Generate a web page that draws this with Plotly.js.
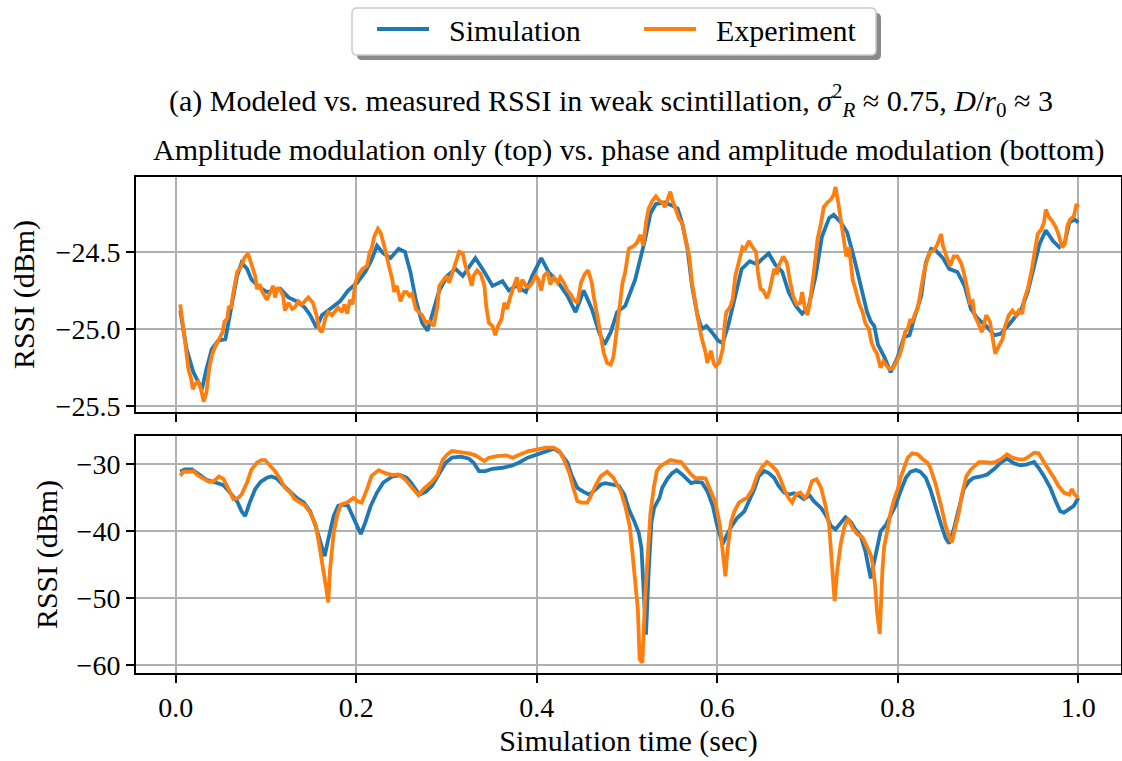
<!DOCTYPE html>
<html>
<head>
<meta charset="utf-8">
<script src="https://cdn.plot.ly/plotly-3.0.1.min.js"></script>
<style>html,body{margin:0;padding:0;background:#fff;}</style>
</head>
<body>
<div id="chart" style="width:1122px;height:761px;"></div>
<script>
// ---- Data ----
const seriesNames = ["Simulation", "Experiment"];

// Top panel: amplitude modulation only
const tSimTop = [0.005,0.012,0.0196,0.029,0.034,0.040,0.047,0.055,0.060,0.068,0.073,0.079,0.084,0.093,0.101,0.108,0.116,0.125,0.134,0.143,0.149,0.156,0.162,0.171,0.182,0.191,0.201,0.210,0.217,0.223,0.230,0.238,0.247,0.254,0.260,0.266,0.273,0.279,0.284,0.292,0.301,0.310,0.318,0.325,0.332,0.342,0.351,0.362,0.369,0.377,0.388,0.395,0.405,0.413,0.424,0.434,0.443,0.452,0.461,0.469,0.475,0.482,0.489,0.498,0.509,0.520,0.526,0.532,0.541,0.550,0.556,0.561,0.567,0.572,0.578,0.583,0.588,0.594,0.601,0.606,0.612,0.620,0.627,0.636,0.644,0.649,0.657,0.664,0.672,0.679,0.687,0.694,0.701,0.709,0.716,0.724,0.729,0.737,0.744,0.752,0.759,0.766,0.770,0.774,0.778,0.785,0.792,0.800,0.807,0.813,0.818,0.826,0.831,0.837,0.842,0.850,0.857,0.866,0.874,0.881,0.889,0.898,0.907,0.914,0.922,0.929,0.937,0.944,0.951,0.957,0.964,0.972,0.979,0.985,0.990,0.996,1.000];
const simTop = [-24.88,-25.13,-25.28,-25.39,-25.26,-25.13,-25.075,-25.065,-24.91,-24.655,-24.57,-24.61,-24.68,-24.73,-24.76,-24.75,-24.74,-24.795,-24.82,-24.86,-24.91,-24.99,-24.91,-24.87,-24.82,-24.75,-24.70,-24.63,-24.55,-24.46,-24.51,-24.54,-24.48,-24.50,-24.63,-24.81,-24.96,-25.01,-24.91,-24.75,-24.655,-24.61,-24.655,-24.60,-24.54,-24.63,-24.72,-24.69,-24.75,-24.72,-24.76,-24.655,-24.54,-24.63,-24.70,-24.785,-24.89,-24.75,-24.87,-25.02,-25.10,-25.02,-24.89,-24.85,-24.68,-24.42,-24.25,-24.19,-24.18,-24.20,-24.22,-24.31,-24.48,-24.72,-24.91,-25.0,-24.98,-25.02,-25.075,-25.09,-24.98,-24.785,-24.61,-24.56,-24.58,-24.55,-24.51,-24.58,-24.63,-24.76,-24.85,-24.90,-24.86,-24.655,-24.40,-24.28,-24.26,-24.31,-24.375,-24.55,-24.72,-24.89,-24.95,-24.98,-25.10,-25.18,-25.28,-25.18,-25.05,-25.04,-24.935,-24.785,-24.57,-24.48,-24.49,-24.54,-24.61,-24.63,-24.72,-24.87,-24.935,-24.98,-25.04,-25.03,-24.98,-24.925,-24.87,-24.76,-24.59,-24.45,-24.36,-24.43,-24.47,-24.44,-24.31,-24.29,-24.31];

const tExpTop = [0.005,0.008,0.011,0.014,0.017,0.019,0.021,0.025,0.028,0.031,0.034,0.037,0.040,0.044,0.048,0.052,0.054,0.057,0.059,0.061,0.064,0.068,0.072,0.076,0.080,0.084,0.088,0.090,0.093,0.096,0.101,0.105,0.108,0.110,0.113,0.116,0.119,0.121,0.125,0.129,0.132,0.136,0.140,0.143,0.147,0.152,0.156,0.159,0.162,0.166,0.169,0.173,0.177,0.180,0.184,0.187,0.190,0.193,0.196,0.199,0.203,0.207,0.212,0.215,0.217,0.220,0.224,0.227,0.231,0.234,0.237,0.240,0.242,0.245,0.249,0.253,0.256,0.259,0.262,0.266,0.270,0.273,0.277,0.281,0.286,0.290,0.292,0.296,0.300,0.303,0.306,0.309,0.314,0.318,0.321,0.325,0.328,0.330,0.334,0.338,0.342,0.344,0.347,0.351,0.354,0.357,0.361,0.364,0.367,0.371,0.375,0.378,0.381,0.384,0.388,0.391,0.395,0.399,0.402,0.405,0.408,0.412,0.415,0.419,0.423,0.426,0.430,0.434,0.437,0.441,0.445,0.449,0.453,0.457,0.461,0.463,0.467,0.471,0.474,0.478,0.482,0.485,0.488,0.491,0.495,0.498,0.502,0.508,0.511,0.515,0.518,0.521,0.524,0.528,0.532,0.536,0.539,0.542,0.545,0.548,0.550,0.554,0.558,0.561,0.565,0.569,0.572,0.576,0.580,0.583,0.587,0.589,0.593,0.596,0.598,0.602,0.606,0.608,0.610,0.614,0.617,0.620,0.624,0.628,0.631,0.635,0.639,0.643,0.645,0.648,0.651,0.655,0.658,0.661,0.663,0.666,0.668,0.673,0.677,0.681,0.684,0.688,0.692,0.694,0.697,0.700,0.703,0.707,0.711,0.715,0.718,0.722,0.726,0.729,0.731,0.734,0.737,0.740,0.743,0.746,0.750,0.753,0.757,0.761,0.764,0.768,0.771,0.774,0.777,0.781,0.784,0.788,0.791,0.795,0.799,0.802,0.805,0.808,0.811,0.814,0.816,0.819,0.822,0.825,0.829,0.833,0.836,0.840,0.844,0.848,0.850,0.854,0.858,0.862,0.866,0.870,0.873,0.877,0.880,0.883,0.885,0.889,0.893,0.895,0.898,0.902,0.905,0.908,0.912,0.916,0.919,0.923,0.927,0.931,0.934,0.938,0.940,0.944,0.948,0.952,0.955,0.959,0.962,0.964,0.967,0.971,0.975,0.978,0.982,0.985,0.988,0.991,0.995,0.998,1.000];
const expTop = [-24.84,-24.96,-25.11,-25.26,-25.32,-25.39,-25.36,-25.34,-25.39,-25.47,-25.41,-25.26,-25.17,-25.11,-25.06,-25.02,-24.95,-24.935,-24.85,-24.87,-24.76,-24.63,-24.60,-24.54,-24.51,-24.59,-24.655,-24.74,-24.71,-24.76,-24.81,-24.76,-24.72,-24.795,-24.73,-24.75,-24.785,-24.88,-24.83,-24.87,-24.86,-24.82,-24.84,-24.82,-24.795,-24.83,-24.91,-25.0,-25.02,-24.925,-24.89,-24.91,-24.88,-24.86,-24.89,-24.84,-24.90,-24.81,-24.84,-24.70,-24.645,-24.61,-24.59,-24.50,-24.48,-24.40,-24.35,-24.375,-24.46,-24.55,-24.61,-24.68,-24.76,-24.72,-24.82,-24.76,-24.76,-24.785,-24.77,-24.87,-24.89,-24.91,-24.96,-24.95,-24.98,-24.85,-24.72,-24.69,-24.655,-24.70,-24.645,-24.58,-24.50,-24.51,-24.59,-24.655,-24.72,-24.655,-24.62,-24.645,-24.72,-24.85,-24.96,-24.98,-25.04,-24.98,-24.935,-24.83,-24.87,-24.785,-24.72,-24.665,-24.76,-24.68,-24.72,-24.73,-24.70,-24.655,-24.68,-24.75,-24.655,-24.63,-24.71,-24.665,-24.70,-24.665,-24.70,-24.75,-24.77,-24.81,-24.83,-24.70,-24.645,-24.62,-24.70,-24.785,-24.91,-25.04,-25.15,-25.22,-25.23,-25.18,-25.02,-24.87,-24.70,-24.63,-24.48,-24.46,-24.44,-24.39,-24.46,-24.31,-24.22,-24.17,-24.14,-24.17,-24.18,-24.21,-24.15,-24.11,-24.16,-24.235,-24.29,-24.31,-24.42,-24.53,-24.70,-24.85,-24.98,-25.065,-25.15,-25.22,-25.14,-25.22,-25.24,-25.22,-25.13,-24.98,-24.89,-24.86,-24.81,-24.655,-24.55,-24.47,-24.48,-24.43,-24.47,-24.50,-24.63,-24.74,-24.75,-24.80,-24.75,-24.68,-24.61,-24.645,-24.59,-24.53,-24.57,-24.70,-24.785,-24.84,-24.83,-24.76,-24.86,-24.91,-24.81,-24.63,-24.42,-24.31,-24.21,-24.18,-24.16,-24.13,-24.08,-24.18,-24.29,-24.42,-24.53,-24.47,-24.68,-24.74,-24.83,-24.89,-24.96,-25.0,-25.09,-25.13,-25.16,-25.25,-25.21,-25.24,-25.26,-25.25,-25.21,-25.17,-25.11,-25.02,-25.0,-24.935,-24.96,-24.90,-24.87,-24.76,-24.63,-24.54,-24.50,-24.49,-24.45,-24.385,-24.46,-24.53,-24.59,-24.53,-24.53,-24.57,-24.63,-24.74,-24.83,-24.82,-24.91,-24.96,-25.02,-24.98,-24.91,-24.95,-25.04,-25.16,-25.11,-25.065,-24.98,-24.91,-24.88,-24.91,-24.88,-24.90,-24.81,-24.74,-24.63,-24.48,-24.385,-24.355,-24.31,-24.225,-24.27,-24.30,-24.34,-24.385,-24.47,-24.45,-24.33,-24.29,-24.27,-24.19,-24.21];

// Bottom panel: phase and amplitude modulation
const tSimBot = [0.005,0.010,0.018,0.025,0.034,0.044,0.053,0.060,0.068,0.073,0.077,0.082,0.088,0.094,0.101,0.106,0.112,0.119,0.127,0.134,0.142,0.149,0.155,0.160,0.165,0.169,0.175,0.180,0.186,0.191,0.197,0.203,0.205,0.210,0.216,0.223,0.230,0.240,0.249,0.256,0.260,0.270,0.277,0.284,0.292,0.299,0.306,0.316,0.325,0.330,0.336,0.343,0.351,0.362,0.373,0.380,0.390,0.401,0.410,0.419,0.426,0.434,0.439,0.445,0.452,0.458,0.463,0.471,0.476,0.484,0.491,0.497,0.502,0.508,0.513,0.516,0.518,0.521,0.524,0.527,0.530,0.536,0.539,0.545,0.550,0.555,0.561,0.567,0.571,0.576,0.583,0.589,0.595,0.600,0.606,0.610,0.616,0.622,0.630,0.635,0.641,0.646,0.652,0.657,0.663,0.668,0.674,0.679,0.685,0.691,0.696,0.702,0.707,0.715,0.720,0.726,0.731,0.737,0.742,0.748,0.753,0.759,0.764,0.770,0.774,0.777,0.781,0.787,0.792,0.798,0.803,0.809,0.814,0.820,0.825,0.831,0.836,0.842,0.848,0.853,0.857,0.862,0.868,0.873,0.879,0.884,0.892,0.899,0.907,0.914,0.921,0.929,0.936,0.943,0.951,0.956,0.962,0.969,0.975,0.980,0.984,0.990,0.995,1.000];
const simBot = [-31.1,-30.75,-30.75,-31.5,-32.3,-32.7,-33.1,-34.2,-35.5,-37.0,-37.7,-35.7,-33.7,-32.6,-32.0,-31.8,-32.1,-33.1,-34.2,-35.0,-35.7,-37.0,-39.2,-41.7,-43.7,-41.2,-37.7,-36.2,-36.0,-36.2,-38.0,-40.0,-40.4,-38.7,-36.2,-34.2,-32.7,-31.8,-31.6,-32.0,-32.6,-34.5,-34.1,-33.2,-31.5,-29.75,-29.0,-28.85,-29.15,-29.75,-31.0,-31.0,-30.65,-30.5,-30.15,-29.75,-29.0,-28.5,-28.0,-27.65,-28.25,-29.75,-31.75,-33.5,-34.1,-34.5,-34.0,-33.0,-32.8,-33.0,-33.2,-34.5,-36.7,-38.5,-40.2,-42.5,-47.5,-55.4,-46.0,-38.7,-36.5,-35.0,-33.5,-32.1,-31.3,-30.85,-31.5,-32.2,-32.8,-32.6,-32.7,-34.0,-36.2,-39.2,-41.9,-40.7,-39.2,-38.0,-37.0,-35.5,-33.7,-31.75,-31.0,-31.3,-32.0,-33.2,-34.2,-34.5,-34.3,-34.7,-35.2,-34.6,-35.5,-36.5,-37.5,-39.2,-39.7,-38.7,-37.9,-38.6,-39.7,-40.7,-42.9,-47.0,-44.5,-42.2,-40.0,-39.0,-37.7,-36.0,-34.0,-32.0,-31.1,-30.85,-31.1,-32.0,-33.7,-36.5,-39.0,-41.0,-41.8,-39.7,-36.2,-33.7,-32.5,-32.0,-31.8,-31.5,-30.65,-29.75,-29.15,-29.85,-30.15,-30.0,-29.65,-30.5,-31.75,-33.5,-35.5,-37.0,-37.2,-36.7,-36.2,-35.0];

const tExpBot = [0.005,0.0085,0.014,0.0196,0.025,0.031,0.037,0.042,0.048,0.053,0.058,0.064,0.0695,0.073,0.079,0.084,0.090,0.095,0.099,0.105,0.110,0.116,0.121,0.127,0.132,0.138,0.143,0.149,0.155,0.158,0.162,0.164,0.167,0.169,0.171,0.175,0.179,0.183,0.190,0.197,0.2015,0.206,0.212,0.217,0.225,0.232,0.240,0.247,0.254,0.260,0.262,0.269,0.275,0.283,0.290,0.296,0.301,0.306,0.316,0.325,0.332,0.338,0.342,0.347,0.356,0.366,0.373,0.382,0.391,0.401,0.410,0.419,0.425,0.430,0.436,0.441,0.445,0.450,0.456,0.460,0.465,0.471,0.478,0.485,0.493,0.498,0.503,0.506,0.509,0.512,0.514,0.517,0.520,0.523,0.526,0.530,0.533,0.537,0.543,0.548,0.554,0.560,0.565,0.571,0.576,0.582,0.587,0.593,0.598,0.603,0.607,0.609,0.611,0.615,0.619,0.624,0.630,0.633,0.639,0.644,0.650,0.655,0.660,0.666,0.670,0.675,0.679,0.683,0.687,0.692,0.697,0.700,0.705,0.710,0.715,0.720,0.724,0.726,0.729,0.730,0.733,0.737,0.741,0.745,0.750,0.755,0.761,0.766,0.770,0.772,0.775,0.777,0.780,0.783,0.785,0.788,0.792,0.796,0.800,0.803,0.807,0.811,0.816,0.822,0.827,0.833,0.836,0.842,0.848,0.853,0.858,0.860,0.864,0.868,0.871,0.876,0.881,0.886,0.890,0.895,0.903,0.908,0.914,0.921,0.927,0.934,0.940,0.945,0.951,0.956,0.962,0.967,0.973,0.978,0.984,0.990,0.993,0.996,1.000];
const expBot = [-31.7,-31.1,-31.1,-31.0,-31.7,-32.2,-32.6,-32.5,-31.8,-32.2,-33.7,-35.2,-35.0,-34.5,-32.7,-30.75,-29.75,-29.35,-29.35,-30.25,-31.0,-32.2,-33.5,-34.2,-35.2,-35.7,-36.1,-37.2,-39.0,-41.2,-45.2,-46.2,-48.7,-50.6,-45.7,-40.2,-37.5,-36.0,-35.7,-35.0,-35.5,-35.7,-33.7,-31.7,-30.85,-31.3,-31.6,-31.5,-32.2,-33.3,-33.5,-34.6,-33.6,-32.7,-31.6,-29.25,-28.5,-28.0,-28.15,-28.35,-28.65,-29.15,-29.5,-29.0,-28.75,-28.65,-29.0,-28.5,-28.0,-27.75,-27.5,-27.5,-28.0,-29.25,-31.25,-33.7,-35.5,-35.7,-35.7,-34.7,-33.2,-31.75,-31.1,-32.0,-34.0,-36.2,-39.2,-43.2,-47.2,-51.6,-59.1,-59.6,-50.0,-43.2,-37.2,-33.2,-31.0,-30.25,-29.75,-29.35,-29.5,-29.65,-30.5,-31.5,-32.1,-32.0,-32.1,-34.0,-35.7,-39.2,-43.7,-46.7,-43.2,-38.7,-37.0,-35.7,-35.2,-35.0,-33.7,-31.75,-30.35,-29.65,-30.15,-31.0,-32.2,-34.0,-35.0,-35.7,-34.5,-34.2,-35.0,-34.5,-32.5,-32.2,-33.5,-36.2,-39.2,-43.7,-49.2,-50.4,-45.7,-41.7,-39.2,-38.1,-39.5,-40.4,-40.9,-42.2,-43.5,-44.7,-48.2,-52.0,-55.3,-45.7,-42.2,-40.2,-37.2,-35.2,-33.7,-32.0,-30.5,-29.0,-28.35,-28.5,-29.15,-29.75,-30.5,-33.0,-36.2,-39.2,-41.2,-41.6,-39.2,-37.0,-34.5,-31.75,-30.75,-30.15,-29.65,-29.65,-29.75,-29.65,-29.25,-28.5,-29.0,-29.25,-29.25,-28.85,-28.25,-28.35,-29.75,-30.75,-32.0,-33.2,-34.2,-34.5,-33.7,-34.5,-35.0];

// Tick values / labels
const xTickVals = [0.0, 0.2, 0.4, 0.6, 0.8, 1.0];
const xTickText = ["0.0", "0.2", "0.4", "0.6", "0.8", "1.0"];
const yTopTickVals = [-25.5, -25.0, -24.5];
const yTopTickText = ["\u221225.5", "\u221225.0", "\u221224.5"];
const yBotTickVals = [-60, -50, -40, -30];
const yBotTickText = ["\u221260", "\u221250", "\u221240", "\u221230"];

// Text
const mainTitle = "(a) Modeled vs. measured RSSI in weak scintillation, <i>σ</i><sup>2</sup><sub><i>R</i></sub> ≈ 0.75, <i>D</i>/<i>r</i><sub>0</sub> ≈ 3";
const subTitle = "Amplitude modulation only (top) vs. phase and amplitude modulation (bottom)";
const xLabel = "Simulation time (sec)";
const yLabel = "RSSI (dBm)";

// ---- Styling ----
const BLUE = "#1f77b4", ORANGE = "#ff7f0e";
const FONT = "Liberation Serif, DejaVu Serif, serif";
const FS = 30;      // titles, labels, legend
const FS_TICK = 28; // tick labels
const W = 1122, H = 761;
const M = {l: 136, r: 1, t: 177, b: 88};
const PW = W - M.l - M.r, PH = H - M.t - M.b;
const px2x = X => (X - M.l) / PW;
const px2y = Y => (H - M.b - Y) / PH;
const LW = 3.8;

const traces = [
  {x: tSimTop, y: simTop, xaxis: "x2", yaxis: "y2", type: "scatter", mode: "lines",
   name: "\u00a0\u00a0" + seriesNames[0], line: {color: BLUE, width: LW}, legendgroup: "s"},
  {x: tExpTop, y: expTop, xaxis: "x2", yaxis: "y2", type: "scatter", mode: "lines",
   name: "\u00a0\u00a0" + seriesNames[1], line: {color: ORANGE, width: LW}, legendgroup: "e"},
  {x: tSimBot, y: simBot, xaxis: "x", yaxis: "y", type: "scatter", mode: "lines",
   name: seriesNames[0], line: {color: BLUE, width: LW}, legendgroup: "s", showlegend: false},
  {x: tExpBot, y: expBot, xaxis: "x", yaxis: "y", type: "scatter", mode: "lines",
   name: seriesNames[1], line: {color: ORANGE, width: LW}, legendgroup: "e", showlegend: false}
];

const axisCommon = {
  showline: true, linecolor: "black", linewidth: 2, mirror: true,
  ticks: "outside", ticklen: 8, tickwidth: 2, tickcolor: "black",
  showgrid: true, gridcolor: "#b0b0b0", gridwidth: 2, zeroline: false,
  tickfont: {family: FONT, size: FS_TICK, color: "black"}
};

const xRange = [-0.044, 1.0473];

// rounded-rect path in paper coords
function roundRect(X0, Y0, X1, Y1, r) {
  const x = px2x, y = px2y;
  return `M${x(X0 + r)},${y(Y0)} L${x(X1 - r)},${y(Y0)} Q${x(X1)},${y(Y0)} ${x(X1)},${y(Y0 + r)} ` +
         `L${x(X1)},${y(Y1 - r)} Q${x(X1)},${y(Y1)} ${x(X1 - r)},${y(Y1)} ` +
         `L${x(X0 + r)},${y(Y1)} Q${x(X0)},${y(Y1)} ${x(X0)},${y(Y1 - r)} ` +
         `L${x(X0)},${y(Y0 + r)} Q${x(X0)},${y(Y0)} ${x(X0 + r)},${y(Y0)} Z`;
}

const layout = {
  width: W, height: H, margin: M,
  paper_bgcolor: "white", plot_bgcolor: "white",
  font: {family: FONT, size: FS, color: "black"},
  showlegend: true,
  title: {text: mainTitle, x: 611 / W, xanchor: "center", y: 1 - 100 / H, yanchor: "middle",
          font: {family: FONT, size: FS, color: "black"}},
  legend: {
    orientation: "h", x: px2x(372), xanchor: "left", y: px2y(29), yanchor: "middle",
    bgcolor: "rgba(0,0,0,0)", borderwidth: 0, itemwidth: 52,
    entrywidth: 200, entrywidthmode: "pixels",
    font: {family: FONT, size: FS, color: "black"}, traceorder: "normal"
  },
  xaxis: Object.assign({}, axisCommon, {
    domain: [0, 1], anchor: "y", range: xRange,
    tickvals: xTickVals, ticktext: xTickText,
    title: {text: xLabel, font: {family: FONT, size: FS, color: "black"}, standoff: 8}
  }),
  xaxis2: Object.assign({}, axisCommon, {
    domain: [0, 1], anchor: "y2", matches: "x", range: xRange,
    tickvals: xTickVals, showticklabels: false
  }),
  yaxis: Object.assign({}, axisCommon, {
    domain: [0, px2y(436)], anchor: "x", range: [-61.14, -25.76],
    tickvals: yBotTickVals, ticktext: yBotTickText,
    title: {text: yLabel, font: {family: FONT, size: FS, color: "black"}, standoff: 10}
  }),
  yaxis2: Object.assign({}, axisCommon, {
    domain: [px2y(412), 1], anchor: "x2", range: [-25.537, -24.015],
    tickvals: yTopTickVals, ticktext: yTopTickText,
    title: {text: yLabel, font: {family: FONT, size: FS, color: "black"}, standoff: 12}
  }),
  annotations: [
    {text: subTitle, xref: "paper", yref: "paper", x: px2x(629), y: px2y(150),
     xanchor: "center", yanchor: "middle", showarrow: false,
     font: {family: FONT, size: FS, color: "black"}}
  ],
  shapes: [
    {type: "path", xref: "paper", yref: "paper", layer: "below",
     path: roundRect(357, 13, 881, 60, 5), fillcolor: "#8a8a8a", line: {width: 0}},
    {type: "path", xref: "paper", yref: "paper", layer: "below",
     path: roundRect(352, 8, 876, 55, 5), fillcolor: "white", line: {color: "#cccccc", width: 1.5}}
  ]
};

Plotly.newPlot("chart", traces, layout, {displayModeBar: false, staticPlot: true});
</script>
</body>
</html>
